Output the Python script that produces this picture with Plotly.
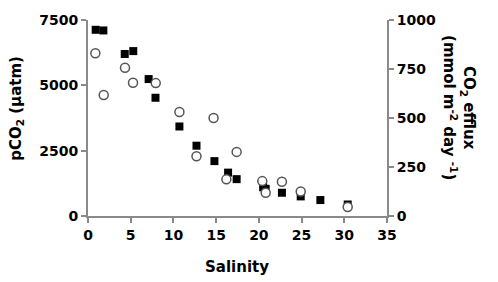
import plotly.graph_objects as go

# pCO2 (left axis, squares)
sq_sal = [0.9, 1.8, 4.3, 5.3, 7.1, 7.9, 10.7, 12.7, 14.8, 16.4, 17.4, 20.5, 20.8, 22.7, 24.9, 27.2, 30.4]
sq_pco2 = [7125, 7100, 6200, 6310, 5240, 4525, 3425, 2690, 2100, 1660, 1410, 1100, 1040, 890, 750, 610, 440]

# CO2 efflux (right axis, circles)
ci_sal = [0.86, 1.84, 4.33, 5.27, 7.93, 10.7, 12.7, 14.7, 16.2, 17.4, 20.4, 20.8, 22.7, 24.9, 30.4]
ci_eff = [830, 617, 756, 680, 678, 531, 305, 500, 187, 327, 178, 119, 175, 125, 46]

x_ticks = [0, 5, 10, 15, 20, 25, 30, 35]
yl_ticks = [0, 2500, 5000, 7500]
yr_ticks = [0, 250, 500, 750, 1000]

FONT = "DejaVu Sans, Arial, sans-serif"
AX = "#8a8a8a"

fig = go.Figure()
fig.add_trace(go.Scatter(x=ci_sal, y=ci_eff, mode="markers", yaxis="y2",
                         marker=dict(symbol="circle", size=9, color="white",
                                     line=dict(color="#555555", width=1.5)),
                         cliponaxis=False, showlegend=False))
fig.add_trace(go.Scatter(x=sq_sal, y=sq_pco2, mode="markers",
                         marker=dict(symbol="square", size=8, color="black",
                                     line=dict(width=0)),
                         cliponaxis=False, showlegend=False))

axis_common = dict(showgrid=False, zeroline=False, showline=True, linecolor=AX, linewidth=2,
                   ticks="outside", ticklen=5, tickwidth=2, tickcolor=AX,
                   tickfont=dict(family=FONT, size=14, color="black", weight="bold"))

fig.update_layout(
    width=498, height=282,
    margin=dict(l=88, r=111, t=15, b=66),
    paper_bgcolor="white", plot_bgcolor="white",
    xaxis=dict(range=[0, 35], tickvals=x_ticks, **axis_common),
    yaxis=dict(range=[0, 7500], tickvals=yl_ticks, **axis_common),
    yaxis2=dict(range=[0, 1000], tickvals=yr_ticks, overlaying="y", side="right", **axis_common),
    annotations=[
        dict(text="Salinity", xref="paper", yref="paper", x=0.498, y=-0.259,
             xanchor="center", yanchor="middle", showarrow=False,
             font=dict(family=FONT, size=15, color="black", weight="bold")),
        dict(text="pCO<sub>2</sub> (µatm)", xref="paper", yref="paper", x=-0.2375, y=0.552,
             xanchor="center", yanchor="middle", textangle=-90, showarrow=False,
             font=dict(family=FONT, size=15, color="black", weight="bold")),
        dict(text="CO<sub>2</sub> efflux<br>(mmol m<sup>-2</sup> day <sup>-1</sup>)",
             xref="paper", yref="paper", x=1.24, y=0.552, xanchor="center", yanchor="middle",
             textangle=90, showarrow=False,
             font=dict(family=FONT, size=15, color="black", weight="bold")),
    ],
)

fig.write_html("out.html")
